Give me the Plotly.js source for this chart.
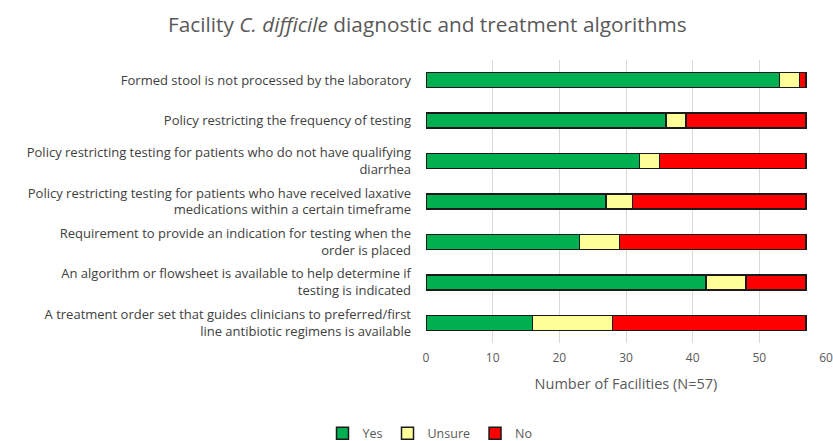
<!DOCTYPE html>
<html><head><meta charset="utf-8">
<script src="https://cdn.plot.ly/plotly-3.0.1.min.js"></script>
<style>body{margin:0;background:#fff}#c{width:833px;height:441px}</style>
</head><body><div id="c"></div>
<script>
const categories = [
  "Formed stool is not processed by the laboratory",
  "Policy restricting the frequency of testing",
  "Policy restricting testing for patients who do not have qualifying<br>diarrhea",
  "Policy restricting testing for patients who have received laxative<br>medications within a certain timeframe",
  "Requirement to provide an indication for testing when the<br>order is placed",
  "An algorithm or flowsheet is available to help determine if<br>testing is indicated",
  "A treatment order set that guides clinicians to preferred/first<br>line antibiotic regimens is available"
];
const yesVals = [53, 36, 32, 27, 23, 42, 16];
const unsureVals = [3, 3, 3, 4, 6, 6, 12];
const noVals = [1, 18, 22, 26, 28, 9, 29];
const xTicks = [0, 10, 20, 30, 40, 50, 60];

const mk = (name, vals, color) => ({
  type: 'bar', orientation: 'h', name: name, x: vals, y: categories,
  marker: {color: color, line: {color: '#1a1a1a', width: 1.5}},
  hoverinfo: 'x+name'
});
const data = [
  mk('Yes', yesVals, '#00b050'),
  mk('Unsure', unsureVals, '#ffff99'),
  mk('No', noVals, '#ff0000')
];
const layout = {
  width: 833, height: 441,
  margin: {l: 426, r: 7, t: 60, b: 98, autoexpand: false},
  barmode: 'stack', bargap: 0.63,
  paper_bgcolor: '#fff', plot_bgcolor: '#fff',
  font: {family: 'Open Sans, sans-serif', color: '#404040', size: 11},
  title: {text: 'Facility <i>C. difficile</i> diagnostic and treatment algorithms',
    font: {size: 20.8, color: '#595959', family: 'Open Sans, sans-serif'},
    x: 0.513, xref: 'container', xanchor: 'center', y: 0.945, yref: 'container', yanchor: 'middle'},
  xaxis: {range: [0, 60], tickvals: xTicks, ticktext: xTicks.map(String),
    showgrid: true, gridcolor: '#d9d9d9', gridwidth: 1, zeroline: false,
    showline: false, ticks: '', tickfont: {size: 12, color: '#595959'}, ticklabelstandoff: 6,
    title: {text: 'Number of Facilities (N=57)', font: {size: 14.5, color: '#595959'}, standoff: 13}},
  yaxis: {autorange: 'reversed', showgrid: false, zeroline: false, showline: false,
    ticks: '', tickfont: {size: 13, color: '#404040'}, ticklabelstandoff: 14},
  legend: {orientation: 'h', xref: 'paper', yref: 'paper', x: 0.01, xanchor: 'center',
    y: -0.32, yanchor: 'middle', font: {size: 12.5, color: '#595959'}, traceorder: 'normal',
    itemwidth: 30, tracegroupgap: 0},
  showlegend: true
};
Plotly.newPlot('c', data, layout, {displayModeBar: false});
</script></body></html>
